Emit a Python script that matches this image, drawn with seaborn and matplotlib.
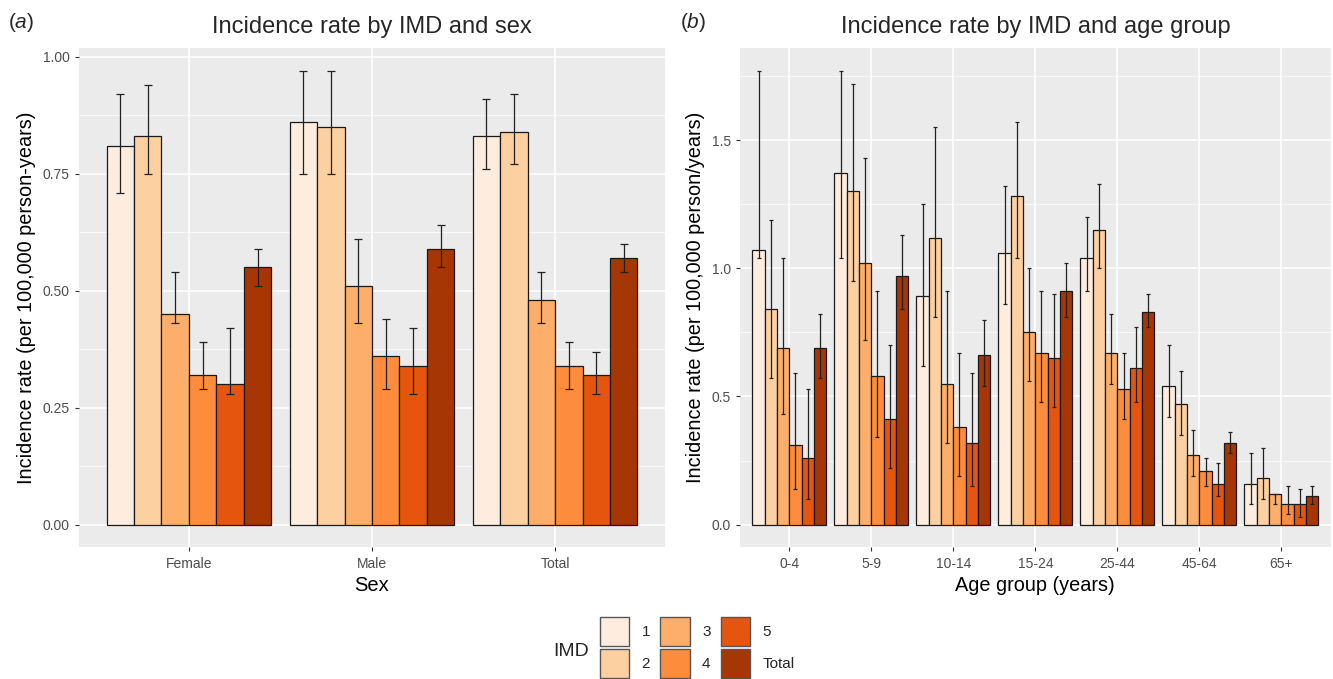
"""
IMD incidence rate bar charts (two panels), ggplot-like style
"""

import matplotlib
matplotlib.use('Agg')
import matplotlib.pyplot as plt
from matplotlib.patches import Patch
from matplotlib.ticker import MultipleLocator, FormatStrFormatter
import seaborn as sns
import pandas as pd

# ---- data ----
imd_levels = ['1', '2', '3', '4', '5', 'Total']
imd_colors = ['#feedde', '#fdd0a2', '#fdae6b', '#fd8d3c', '#e6550d', '#a63603']

sex_groups = ['Female', 'Male', 'Total']
sex_rate = [
    [0.81, 0.83, 0.45, 0.32, 0.30, 0.55],
    [0.86, 0.85, 0.51, 0.36, 0.34, 0.59],
    [0.83, 0.84, 0.48, 0.34, 0.32, 0.57],
]
sex_lower = [
    [0.71, 0.75, 0.43, 0.29, 0.28, 0.51],
    [0.75, 0.75, 0.43, 0.29, 0.28, 0.55],
    [0.76, 0.77, 0.43, 0.29, 0.28, 0.54],
]
sex_upper = [
    [0.92, 0.94, 0.54, 0.39, 0.42, 0.59],
    [0.97, 0.97, 0.61, 0.44, 0.42, 0.64],
    [0.91, 0.92, 0.54, 0.39, 0.37, 0.60],
]

age_groups = ['0-4', '5-9', '10-14', '15-24', '25-44', '45-64', '65+']
age_rate = [
    [1.07, 0.84, 0.69, 0.31, 0.26, 0.69],
    [1.37, 1.30, 1.02, 0.58, 0.41, 0.97],
    [0.89, 1.12, 0.55, 0.38, 0.32, 0.66],
    [1.06, 1.28, 0.75, 0.67, 0.65, 0.91],
    [1.04, 1.15, 0.67, 0.53, 0.61, 0.83],
    [0.54, 0.47, 0.27, 0.21, 0.16, 0.32],
    [0.16, 0.18, 0.12, 0.08, 0.08, 0.11],
]
age_lower = [
    [1.04, 0.57, 0.43, 0.14, 0.10, 0.57],
    [1.04, 0.95, 0.72, 0.34, 0.22, 0.84],
    [0.62, 0.81, 0.32, 0.19, 0.15, 0.54],
    [0.86, 1.04, 0.56, 0.48, 0.46, 0.81],
    [0.91, 1.00, 0.55, 0.41, 0.48, 0.77],
    [0.42, 0.35, 0.19, 0.15, 0.11, 0.28],
    [0.08, 0.10, 0.08, 0.04, 0.03, 0.08],
]
age_upper = [
    [1.77, 1.19, 1.04, 0.59, 0.53, 0.82],
    [1.77, 1.72, 1.43, 0.91, 0.70, 1.13],
    [1.25, 1.55, 0.91, 0.67, 0.59, 0.80],
    [1.32, 1.57, 1.00, 0.91, 0.90, 1.02],
    [1.20, 1.33, 0.82, 0.67, 0.77, 0.90],
    [0.70, 0.60, 0.37, 0.26, 0.24, 0.36],
    [0.28, 0.30, 0.12, 0.15, 0.14, 0.15],
]


def to_long(groups, rate, lower, upper, gname):
    rows = []
    for i, g in enumerate(groups):
        for j, lvl in enumerate(imd_levels):
            rows.append({gname: g, 'IMD': lvl, 'rate': rate[i][j],
                         'lo': lower[i][j], 'hi': upper[i][j]})
    return pd.DataFrame(rows)


# ---- style ----
sns.set_theme(style='darkgrid')
plt.rcParams['font.family'] = ['Liberation Sans', 'DejaVu Sans']
plt.rcParams['mathtext.fontset'] = 'custom'
plt.rcParams['mathtext.rm'] = 'Liberation Sans'
plt.rcParams['mathtext.it'] = 'Liberation Sans:italic'

GREY_BG = '#ebebeb'
TICK_COL = '#4d4d4d'


def draw_panel(ax, df, gname, groups, ymax, major, cap):
    sns.barplot(data=df, x=gname, y='rate', hue='IMD', order=groups,
                hue_order=imd_levels, palette=imd_colors, saturation=1,
                errorbar=None, width=0.9, gap=0, edgecolor='#1a1a1a',
                linewidth=0.9, legend=False, ax=ax, zorder=3)
    bar_containers = list(ax.containers)
    # error bars from the bar positions seaborn produced
    for j, cont in enumerate(bar_containers):
        sub = df[df['IMD'] == imd_levels[j]].set_index(gname).loc[groups]
        xs = [b.get_x() + b.get_width() / 2 for b in cont]
        ys = sub['rate'].values
        err = [ys - sub['lo'].values, sub['hi'].values - ys]
        ax.errorbar(xs, ys, yerr=err, fmt='none', ecolor='#222222',
                    elinewidth=0.9, capsize=cap, capthick=0.9, zorder=4)

    ax.set_facecolor(GREY_BG)
    ax.set_xlim(-0.6, len(groups) - 0.4)
    ax.set_ylim(-0.05 * ymax, 1.05 * ymax)
    ax.yaxis.set_major_locator(MultipleLocator(major))
    ax.yaxis.set_minor_locator(MultipleLocator(major / 2))
    ax.grid(which='major', color='white', linewidth=1.1, zorder=0)
    ax.grid(which='minor', axis='y', color='white', linewidth=0.5, zorder=0)
    ax.set_axisbelow(True)
    for s in ax.spines.values():
        s.set_visible(False)
    ax.tick_params(axis='both', which='major', length=3.2, width=0.8,
                   color='#333333', labelcolor=TICK_COL, labelsize=10, pad=3.5,
                   bottom=True, left=True)
    ax.tick_params(which='minor', length=0)


fig = plt.figure(figsize=(13.33, 6.79), dpi=100)
ax1 = fig.add_axes([0.0593, 0.194, 0.4395, 0.735])
ax2 = fig.add_axes([0.5552, 0.194, 0.4430, 0.735])

sex_df = to_long(sex_groups, sex_rate, sex_lower, sex_upper, 'Sex')
age_df = to_long(age_groups, age_rate, age_lower, age_upper, 'Age')

draw_panel(ax1, sex_df, 'Sex', sex_groups, 0.97, 0.25, 3.2)
ax1.yaxis.set_major_formatter(FormatStrFormatter('%.2f'))
draw_panel(ax2, age_df, 'Age', age_groups, 1.77, 0.5, 1.5)
ax2.yaxis.set_major_formatter(FormatStrFormatter('%.1f'))

ax1.set_xlabel('Sex', fontsize=14.5, color='black', labelpad=4)
ax1.set_ylabel('Incidence rate (per 100,000 person-years)', fontsize=14.3,
               color='black', labelpad=5)
ax1.set_title('Incidence rate by IMD and sex', fontsize=17, pad=11)

ax2.set_xlabel('Age group (years)', fontsize=14.3, color='black', labelpad=4)
ax2.set_ylabel('Incidence rate (per 100,000 person/years)', fontsize=14.3,
               color='black', labelpad=5)
ax2.set_title('Incidence rate by IMD and age group', fontsize=17, pad=11)

fig.text(0.006, 0.967, r'($\it{a}$)', fontsize=15, va='center')
fig.text(0.510, 0.967, r'($\it{b}$)', fontsize=15, va='center')

# legend at bottom
handles = [Patch(facecolor=c, edgecolor='#555555', linewidth=1.0)
           for c in imd_colors]
fig.legend(handles, imd_levels, ncol=3, loc='upper left',
           bbox_to_anchor=(592 / 1333, 1 - 609 / 679), frameon=False,
           borderpad=0, handlelength=1.95, handleheight=2.54,
           labelspacing=0.2, handletextpad=0.8, columnspacing=0.65,
           fontsize=11)
fig.text(553 / 1333, 1 - 651 / 679, 'IMD', fontsize=14, va='center')

fig.savefig('out.png', dpi=100)
